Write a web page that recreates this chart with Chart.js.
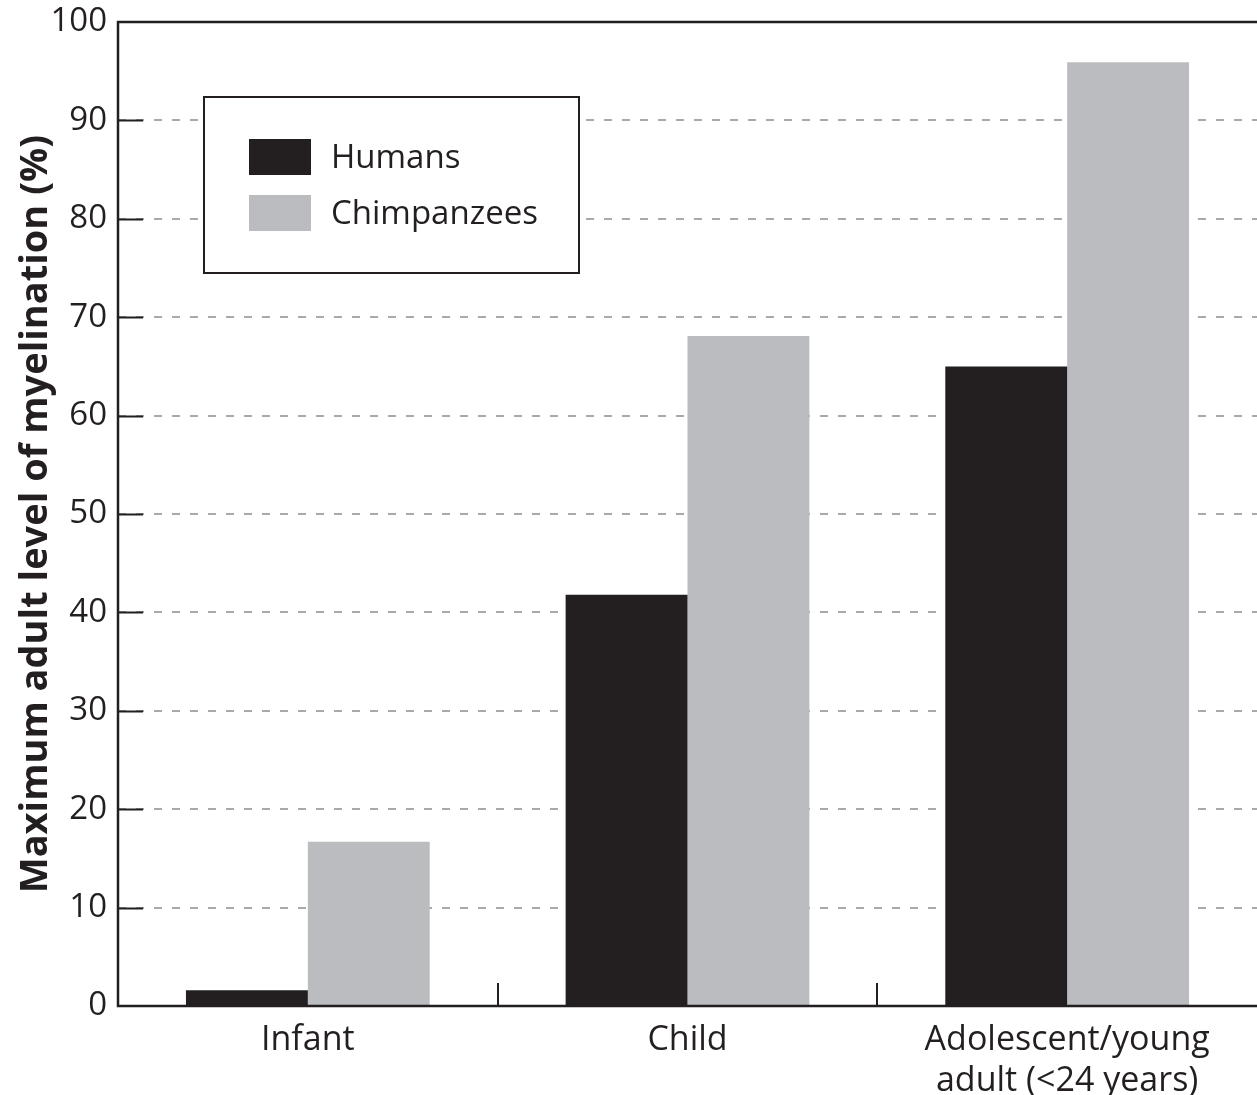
<!DOCTYPE html>
<html>
<head>
<meta charset="utf-8">
<title>Myelination</title>
<script src="https://cdn.jsdelivr.net/npm/chart.js@4/dist/chart.umd.min.js"></script>
<style>
  html, body { margin: 0; padding: 0; background: #fff; }
  #chart { display: block; }
</style>
</head>
<body>
<canvas id="chart" width="1257" height="1095"></canvas>
<script>
// values (% of max adult level)
var stages = ["Infant", "Child", ["Adolescent/young", "adult (<24 years)"]];
var humans = [1.6, 41.8, 65.0];
var chimpanzees = [16.7, 68.1, 95.9];
var yTicks = [0, 10, 20, 30, 40, 50, 60, 70, 80, 90, 100];

var ink = "#231f20";
var fontFamily = "'Open Sans', 'Noto Sans', sans-serif";

// axes, inner tick marks and the boxed legend
var frame = {
  id: "frame",
  afterDatasetsDraw: function(chart) {
    var ctx = chart.ctx;
    var area = chart.chartArea;
    var x = chart.scales.x, y = chart.scales.y;
    ctx.save();
    ctx.strokeStyle = ink;
    ctx.lineCap = "butt";

    // y ticks pointing inward
    ctx.lineWidth = 2;
    yTicks.forEach(function(v) {
      if (v === 0 || v === 100) return;
      var py = Math.round(y.getPixelForValue(v)) + 0.5;
      ctx.beginPath();
      ctx.moveTo(area.left, py);
      ctx.lineTo(area.left + 25, py);
      ctx.stroke();
    });

    // x ticks between categories
    for (var i = 1; i < stages.length; i++) {
      var px = Math.round((x.getPixelForValue(i - 1) + x.getPixelForValue(i)) / 2);
      ctx.beginPath();
      ctx.moveTo(px, area.bottom);
      ctx.lineTo(px, area.bottom - 23);
      ctx.stroke();
    }

    // axis lines + top line
    ctx.lineWidth = 2.5;
    ctx.beginPath();
    ctx.moveTo(area.right, area.top);
    ctx.lineTo(area.left, area.top);
    ctx.lineTo(area.left, area.bottom);
    ctx.lineTo(area.right, area.bottom);
    ctx.stroke();

    // legend box
    var bx = area.left + 86, by = area.top + 75, bw = 375, bh = 176;
    ctx.fillStyle = "#fff";
    ctx.fillRect(bx, by, bw, bh);
    ctx.lineWidth = 2;
    ctx.strokeRect(bx, by, bw, bh);

    ctx.font = "33px " + fontFamily;
    ctx.textBaseline = "middle";
    ctx.textAlign = "left";
    chart.data.datasets.forEach(function(ds, k) {
      var sy = by + 42 + k * 56;
      ctx.fillStyle = ds.backgroundColor;
      ctx.fillRect(bx + 45, sy, 62, 36);
      ctx.fillStyle = ink;
      ctx.fillText(ds.label, bx + 127, sy + 20);
    });
    ctx.restore();
  }
};

new Chart(document.getElementById("chart"), {
  type: "bar",
  data: {
    labels: stages,
    datasets: [
      { label: "Humans", data: humans, backgroundColor: "#231f20" },
      { label: "Chimpanzees", data: chimpanzees, backgroundColor: "#bbbcbf" }
    ]
  },
  options: {
    responsive: false,
    animation: false,
    devicePixelRatio: 1,
    categoryPercentage: 0.642,
    barPercentage: 1.0,
    layout: { padding: { top: 22, right: 0, left: 0, bottom: 0 } },
    plugins: {
      legend: { display: false },
      tooltip: { enabled: false }
    },
    scales: {
      x: {
        grid: { display: false },
        border: { display: false },
        ticks: {
          color: ink,
          padding: 6,
          font: { family: fontFamily, size: 34 }
        },
        afterFit: function(s) {
          s.height = 89;
          s.paddingLeft = 0;
          s.paddingRight = 0;
        }
      },
      y: {
        min: 0,
        max: 100,
        afterBuildTicks: function(s) {
          s.ticks = yTicks.map(function(v) { return { value: v }; });
        },
        grid: {
          color: "#a9a9a9",
          lineWidth: 2,
          drawTicks: false
        },
        border: { display: false, dash: [8, 10] },
        ticks: {
          color: ink,
          padding: 11,
          font: { family: fontFamily, size: 33 }
        },
        title: {
          display: true,
          text: "Maximum adult level of myelination (%)",
          color: ink,
          font: { family: fontFamily, size: 38, weight: "bold", lineHeight: 1 },
          padding: { top: 17, bottom: 0 }
        },
        afterFit: function(s) {
          s.width = 118;
          s.paddingTop = 0;
          s.paddingBottom = 0;
        }
      }
    }
  },
  plugins: [frame]
});
</script>
</body>
</html>
